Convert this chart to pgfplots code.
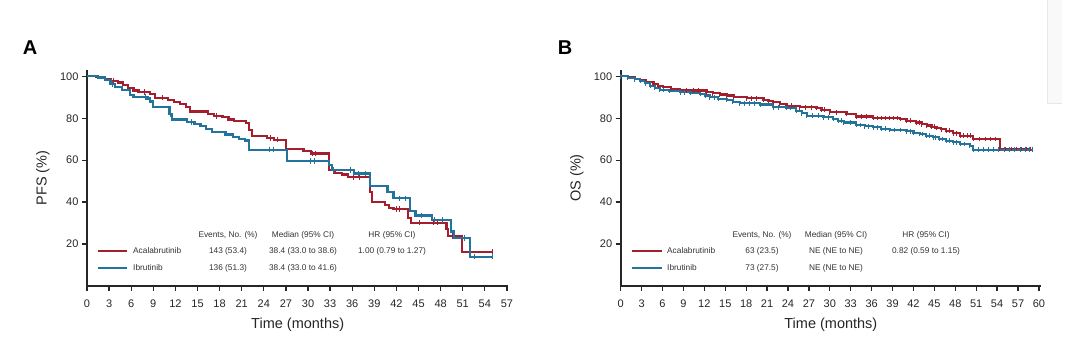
\documentclass[border=0pt]{standalone}
\usepackage{fontspec}
\setmainfont{Liberation Sans}
\usepackage{pgfplots}
\pgfplotsset{compat=1.18}
\definecolor{acred}{RGB}{165,30,46}
\definecolor{ibblue}{RGB}{34,116,156}
\definecolor{txt}{RGB}{50,50,50}
\pgfplotsset{kmaxis/.style={
  scale only axis, height=216pt, ymin=0, ymax=103,
  axis lines=left, axis line style={-, line width=1.6pt, black!85},
  tick align=outside, major tick length=5pt,
  tick style={line width=1.3pt, black!85},
  ytick={20,40,60,80,100},
  ticklabel style={font=\fontsize{11}{13}\selectfont, text=black!85},
  xticklabel style={yshift=-5pt},
  /pgf/number format/assume math mode=true,
  xlabel style={font=\fontsize{14.5}{16}\selectfont, at={(axis description cs:0.5,-0.1806)}, anchor=center, text=black!85},
  ylabel style={font=\fontsize{14.5}{16}\selectfont, at={(axis description cs:-0.1045,0.5)}, anchor=center, text=black!85},
  clip=false,
}}
\tikzset{lg/.style={font=\fontsize{8.3}{10}\selectfont, text=txt, inner sep=0pt}}
\begin{document}
\begin{tikzpicture}[x=1pt,y=1pt]
\useasboundingbox (0,0) rectangle (1080,342);
% faint artifact box
\fill[gray!5] (1047,239) rectangle (1062,342);
\draw[gray!18, line width=0.8pt] (1047,342) -- (1047,239) -- (1062,239);

\node[font=\bfseries\fontsize{20}{22}\selectfont] at (30,294) {A};
\node[font=\bfseries\fontsize{20}{22}\selectfont] at (565,294) {B};

% ---------------- Panel A: PFS ----------------
\begin{axis}[kmaxis, at={(87pt,56pt)}, anchor=south west, width=421.4pt,
  xmin=0, xmax=57.2, xtick={0,3,...,57},
  xlabel={Time (months)}, ylabel={PFS (\%)}]
\addplot[const plot, acred, line width=2.2pt] coordinates {
(0,100) (1.2,99.6) (2.4,98.8) (3.3,97.8) (4.2,97.0) (4.9,95.8) (5.6,94.6) (6.3,93.2)
(7.0,92.4) (8.5,91.6) (9.2,89.8) (11.0,88.6) (11.8,87.6) (12.6,86.6) (13.4,85.4)
(14.0,83.2) (16.4,82.2) (17.2,81.0) (18.4,80.4) (19.2,79.4) (20.0,78.8) (21.6,77.6)
(22.0,74.5) (22.4,71.6) (24.4,70.6) (25.4,69.8) (27.0,65.4) (29.4,64.4) (30.4,63.2)
(32.8,55.4) (33.6,54.0) (34.6,53.2) (35.4,51.8) (38.4,44.8) (38.7,40.2) (40.4,38.6)
(41.0,37.2) (41.6,36.6) (43.6,32.4) (44.0,30.2) (48.8,27.0) (49.0,23.8) (50.9,16.2)
(55.0,16.2)};
\addplot[only marks, mark=|, mark size=2.8pt, acred, mark options={line width=1pt}] coordinates {
(3.6,97.8) (7.8,92.4) (10.2,89.8) (17.6,81.0) (24.9,70.6) (25.8,69.8) (30.6,63.2)
(31.0,63.2) (36.2,51.8) (37.0,51.8) (42.0,36.6) (42.4,36.6) (45.2,30.2) (47.0,30.2)
(47.6,30.2) (49.6,23.8) (55.0,16.2)};
\addplot[const plot, ibblue, line width=2.2pt] coordinates {
(0,100) (1.5,99.4) (2.4,98.2) (3.2,96.4) (3.8,94.8) (4.7,93.3) (5.8,91.0) (6.3,90.0)
(8.2,89.4) (8.6,88.0) (9.0,85.4) (11.2,82.0) (11.5,79.4) (13.6,78.2) (14.6,77.4)
(15.4,76.4) (16.2,75.0) (17.0,73.6) (18.8,72.2) (19.8,71.0) (20.6,70.0) (21.4,69.4)
(22.0,65.0) (27.2,59.6) (32.9,57.6) (33.3,55.2) (36.2,53.6) (38.4,47.6) (40.8,44.8)
(41.6,41.8) (43.8,35.6) (44.6,33.6) (46.8,31.6) (49.4,26.0) (49.8,23.0) (52.0,14.0)
(55.0,14.0)};
\addplot[only marks, mark=|, mark size=2.8pt, ibblue, mark options={line width=1pt}] coordinates {
(3.5,96.4) (7.9,90.0) (11.4,82.0) (14.2,78.2) (24.8,65.0) (25.3,65.0) (30.4,59.6)
(30.9,59.6) (33.5,55.2) (35.8,55.2) (36.8,53.6) (37.8,53.6) (42.4,41.8) (43.2,41.8)
(45.4,33.6) (47.2,31.6) (48.2,31.6) (51.2,23.0) (52.6,14.0) (55.0,14.0)};
\end{axis}

% legend A
\draw[acred, line width=2.2pt] (98,91) -- (127,91);
\draw[ibblue, line width=2.2pt] (98,74) -- (127,74);
\node[lg, anchor=west] at (133,91) {Acalabrutinib};
\node[lg, anchor=west] at (133,74) {Ibrutinib};
\node[lg] at (228,107) {Events, No. (\%)};
\node[lg] at (228,91) {143 (53.4)};
\node[lg] at (228,74) {136 (51.3)};
\node[lg] at (303,107) {Median (95\% CI)};
\node[lg] at (303,91) {38.4 (33.0 to 38.6)};
\node[lg] at (303,74) {38.4 (33.0 to 41.6)};
\node[lg] at (392,107) {HR (95\% CI)};
\node[lg] at (392,91) {1.00 (0.79 to 1.27)};

% ---------------- Panel B: OS ----------------
\begin{axis}[kmaxis, at={(620.7pt,56pt)}, anchor=south west, width=420.3pt,
  xmin=0, xmax=60.3, xtick={0,3,...,60},
  xlabel={Time (months)}, ylabel={OS (\%)}]
\addplot[const plot, acred, line width=2.2pt, mark=|, mark size=2.4pt, mark options={line width=0.9pt}] coordinates {
(0,100) (1,99.5) (2,98.8) (2.8,98.2) (3.6,97.4) (4.7,96.3) (5.4,95.5) (6.1,94.8)
(7.2,94.0) (8.5,93.2) (12.3,92.4) (13.2,91.9) (14.2,91.3) (15.2,90.8) (16.2,90.3)
(18.1,89.5) (20.5,88.7) (21.2,88.2) (21.9,87.6) (22.8,86.8) (23.8,86.0) (25.7,85.2)
(28.1,84.9) (28.8,84.0) (30.0,82.8) (32.4,82.0) (33.8,80.8) (36.2,80.1) (40.1,79.6)
(41.0,78.8) (42.4,78.0) (43.2,77.2) (43.9,76.5) (44.6,75.9) (45.3,75.3) (46.0,74.7)
(46.7,74.1) (47.7,72.8) (48.7,71.7) (50.6,70.1) (54.4,65.3) (58.8,65.3)};
\addplot[only marks, mark=|, mark size=2.4pt, acred, mark options={line width=0.9pt}] coordinates {
(9.5,93.2) (10.5,93.2) (11.2,93.2) (18.8,89.5) (19.5,89.5) (24.5,86.0) (26.5,85.2)
(27.3,85.2) (29.2,84.0) (31.0,82.8) (34.5,80.8) (35.2,80.8) (36.8,80.1) (37.4,80.1)
(38.0,80.1) (38.6,80.1) (39.2,80.1) (39.7,80.1) (41.6,78.8) (42.8,78.0) (45.0,75.9)
(47.2,74.1) (48.2,72.8) (49.2,71.7) (49.7,71.7) (50.2,71.7) (51.5,70.1) (52.3,70.1)
(53.0,70.1) (53.7,70.1) (55.2,65.3) (56.0,65.3) (56.8,65.3) (57.5,65.3) (58.2,65.3)
(58.8,65.3)};
\addplot[const plot, ibblue, line width=2.2pt, mark=|, mark size=2.4pt, mark options={line width=0.9pt}] coordinates {
(0,100) (1,99.3) (2,98.6) (2.8,97.9) (3.5,96.7) (4.2,95.5) (4.9,94.5) (5.6,93.5)
(7.0,93.0) (8.5,92.4) (10.0,92.0) (11.4,91.6) (12.1,90.8) (12.8,90.0) (14.0,89.3)
(15.2,88.7) (16.1,87.9) (17.1,87.1) (20.0,86.5) (21.9,85.2) (23.8,84.9) (25.2,83.6)
(26.0,82.4) (26.7,81.2) (29.1,80.4) (30.5,79.6) (31.2,78.8) (32.0,78.0) (33.8,76.8)
(35.0,76.2) (36.2,75.7) (37.4,75.0) (38.6,74.4) (41.0,73.8) (42.0,73.1) (42.9,72.5)
(43.8,71.7) (44.8,70.9) (45.7,70.1) (46.7,69.3) (47.7,68.5) (48.7,67.7) (50.1,66.9)
(50.6,64.9) (59.0,64.9)};
\addplot[only marks, mark=|, mark size=2.4pt, ibblue, mark options={line width=0.9pt}] coordinates {
(6.2,93.5) (9.2,92.4) (13.4,90.0) (17.8,87.1) (18.5,87.1) (19.2,87.1) (22.6,85.2)
(24.4,84.9) (27.5,81.2) (28.3,81.2) (29.8,80.4) (31.6,78.8) (33.0,78.0) (34.4,76.8)
(35.6,76.2) (36.8,75.7) (38.0,75.0) (39.3,74.4) (40.2,74.4) (41.5,73.8) (43.3,72.5)
(44.3,71.7) (45.2,70.9) (46.2,70.1) (47.2,69.3) (48.2,68.5) (49.3,67.7) (51.3,64.9)
(52.0,64.9) (52.8,64.9) (53.5,64.9) (54.2,64.9) (55.0,64.9) (55.8,64.9) (56.5,64.9)
(57.3,64.9) (58.0,64.9) (58.6,64.9) (59.0,64.9)};
\end{axis}

% legend B
\draw[acred, line width=2.2pt] (632,91) -- (662,91);
\draw[ibblue, line width=2.2pt] (632,74) -- (662,74);
\node[lg, anchor=west] at (667,91) {Acalabrutinib};
\node[lg, anchor=west] at (667,74) {Ibrutinib};
\node[lg] at (762,107) {Events, No. (\%)};
\node[lg] at (762,91) {63 (23.5)};
\node[lg] at (762,74) {73 (27.5)};
\node[lg] at (836,107) {Median (95\% CI)};
\node[lg] at (836,91) {NE (NE to NE)};
\node[lg] at (836,74) {NE (NE to NE)};
\node[lg] at (926,107) {HR (95\% CI)};
\node[lg] at (926,91) {0.82 (0.59 to 1.15)};
\end{tikzpicture}
\end{document}
